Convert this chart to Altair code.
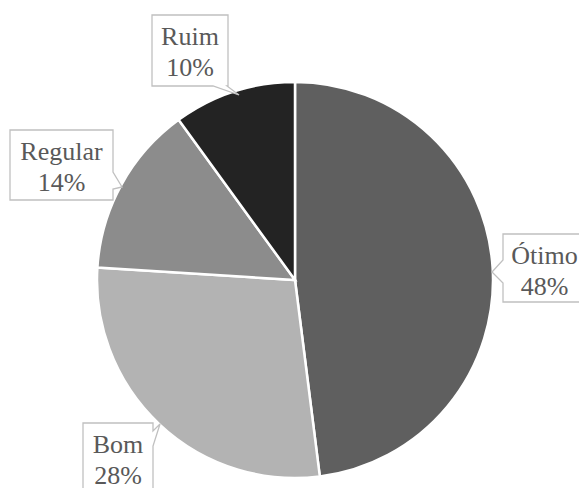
import altair as alt
import pandas as pd

# Survey answers and their shares (%)
categories = ["Ótimo", "Bom", "Regular", "Ruim"]
values = [48, 28, 14, 10]
colors = ["#5f5f5f", "#b3b3b3", "#8c8c8c", "#232323"]

# Callout boxes: left, top, right, bottom (pixels)
box_left = [503, 83, 10, 152]
box_top = [234, 423, 130, 15]
box_right = [586, 153, 113, 228]
box_bottom = [302, 495, 200, 86]
# Pointer of each callout: edge, base start, base end, tip x, tip y
ptr_side = ["left", "right", "right", "bottom"]
ptr_b1 = [260, 431, 172, 213]
ptr_b2 = [283, 446, 189, 227]
ptr_tx = [492, 160, 122, 239]
ptr_ty = [272, 424, 187, 95]

W, H = 579, 488
CX, CY, R = 295, 280, 198


def bubble_path(l, t, r, b, side, b1, b2, tx, ty):
    """Speech-bubble outline, relative to the box centre."""
    cx, cy = (l + r) / 2, (t + b) / 2
    pts = [(l, t)]
    if side == "top":
        pts += [(b1, t), (tx, ty), (b2, t)]
    pts += [(r, t)]
    if side == "right":
        pts += [(r, b1), (tx, ty), (r, b2)]
    pts += [(r, b)]
    if side == "bottom":
        pts += [(b2, b), (tx, ty), (b1, b)]
    pts += [(l, b)]
    if side == "left":
        pts += [(l, b2), (tx, ty), (l, b1)]
    d = "M" + "L".join(f"{x - cx:.1f},{y - cy:.1f}" for x, y in pts) + "Z"
    return d


pie_df = pd.DataFrame({"cat": categories, "val": values, "order": range(len(categories))})

lab_df = pd.DataFrame({
    "cat": categories,
    "pct": [f"{v}%" for v in values],
    "bx": [(l + r) / 2 for l, r in zip(box_left, box_right)],
    "by": [(t + b) / 2 for t, b in zip(box_top, box_bottom)],
    "tx": [(l + r) / 2 for l, r in zip(box_left, box_right)],
    "y1": [t + 30 for t in box_top],
    "y2": [t + 61 for t in box_top],
    "shape": [
        bubble_path(*args)
        for args in zip(box_left, box_top, box_right, box_bottom,
                        ptr_side, ptr_b1, ptr_b2, ptr_tx, ptr_ty)
    ],
})

pie = alt.Chart(pie_df).mark_arc(
    outerRadius=R, stroke="white", strokeWidth=2.5
).encode(
    theta=alt.Theta("val:Q", stack=True),
    order=alt.Order("order:Q"),
    color=alt.Color("cat:N", scale=alt.Scale(domain=categories, range=colors), legend=None),
    x=alt.value(CX),
    y=alt.value(CY),
)

boxes = alt.Chart(lab_df).mark_point(
    filled=True, fill="white", stroke="#c0c0c0", strokeWidth=1.3, opacity=1
).encode(
    x=alt.X("bx:Q", scale=None, axis=None),
    y=alt.Y("by:Q", scale=None, axis=None),
    shape=alt.Shape("shape:N", scale=None),
    size=alt.value(4),
)

names = alt.Chart(lab_df).mark_text(
    font="Liberation Serif", fontSize=26, color="#595959",
    align="center", baseline="alphabetic"
).encode(
    x=alt.X("tx:Q", scale=None, axis=None),
    y=alt.Y("y1:Q", scale=None, axis=None),
    text="cat:N",
)
pcts = alt.Chart(lab_df).mark_text(
    font="Liberation Serif", fontSize=26, color="#595959",
    align="center", baseline="alphabetic"
).encode(
    x=alt.X("tx:Q", scale=None, axis=None),
    y=alt.Y("y2:Q", scale=None, axis=None),
    text="pct:N",
)

chart = alt.layer(pie, boxes, names, pcts).properties(
    width=W, height=H, padding=0, autosize="none"
).configure_view(stroke=None)

chart.save("out.html", embed_options={"renderer": "svg", "actions": False})
